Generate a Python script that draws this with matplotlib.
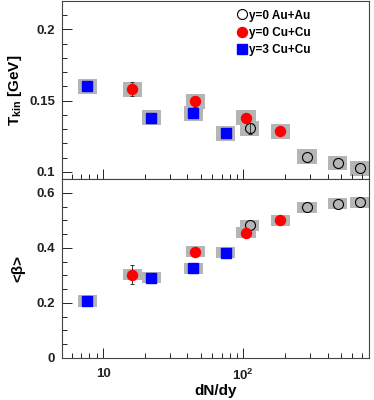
import matplotlib
matplotlib.use('Agg')
import matplotlib.pyplot as plt
from matplotlib.patches import Rectangle
from matplotlib.ticker import FixedLocator, FixedFormatter, MultipleLocator

plt.rcParams['font.family'] = ['Liberation Sans', 'DejaVu Sans']
plt.rcParams['font.weight'] = 'bold'
plt.rcParams['mathtext.fontset'] = 'custom'
plt.rcParams['mathtext.bf'] = 'Liberation Sans:bold'
plt.rcParams['mathtext.rm'] = 'Liberation Sans:bold'
plt.rcParams['mathtext.default'] = 'bf'

# y=0 Au+Au (open circles)
auau_x = [111, 285, 472, 678]
auau_T = [0.1305, 0.1107, 0.1063, 0.1026]
auau_T_err = [0.004, 0.0, 0.0, 0.0]
auau_b = [0.482, 0.548, 0.560, 0.565]
auau_b_err = [0.0, 0.0, 0.0, 0.0]

# y=0 Cu+Cu (red circles)
cu0_x = [16.1, 45.4, 104.5, 183]
cu0_T = [0.158, 0.1495, 0.138, 0.1286]
cu0_T_err = [0.005, 0.004, 0.0, 0.0]
cu0_b = [0.302, 0.386, 0.454, 0.500]
cu0_b_err = [0.035, 0.0, 0.0, 0.0]

# y=3 Cu+Cu (blue squares)
cu3_x = [7.7, 22, 44, 75]
cu3_T = [0.160, 0.138, 0.141, 0.127]
cu3_b = [0.207, 0.2915, 0.3266, 0.383]

sys_T = 0.0052
sys_b = 0.02
sys_fx = 1.17

fig = plt.figure(figsize=(3.74, 4.0), dpi=100)
ax1 = fig.add_axes([0.166, 0.5525, 0.821, 0.445])
ax2 = fig.add_axes([0.166, 0.105, 0.821, 0.4475])


def sys_boxes(ax, xs, ys, dy):
    for x, y in zip(xs, ys):
        ax.add_patch(Rectangle((x / sys_fx, y - dy), x * sys_fx - x / sys_fx, 2 * dy,
                               facecolor='#b5b5b5', edgecolor='none', zorder=1))


def stat_bars(ax, xs, ys, es):
    pts = [(x, y, e) for x, y, e in zip(xs, ys, es) if e > 0]
    if not pts:
        return
    ax.errorbar([p[0] for p in pts], [p[1] for p in pts], yerr=[p[2] for p in pts],
                fmt='none', ecolor='#333333', elinewidth=0.7, capsize=1.5,
                capthick=0.7, zorder=2)


for ax, au, cu0, cu3, au_e, cu0_e, dy in [
        (ax1, auau_T, cu0_T, cu3_T, auau_T_err, cu0_T_err, sys_T),
        (ax2, auau_b, cu0_b, cu3_b, auau_b_err, cu0_b_err, sys_b)]:
    sys_boxes(ax, auau_x, au, dy)
    sys_boxes(ax, cu0_x, cu0, dy)
    sys_boxes(ax, cu3_x, cu3, dy)
    stat_bars(ax, auau_x, au, au_e)
    stat_bars(ax, cu0_x, cu0, cu0_e)
    ax.plot(auau_x, au, 'o', mfc='none', mec='black', mew=0.8, ms=7.2, zorder=3,
            label='y=0 Au+Au')
    ax.plot(cu0_x, cu0, 'o', color='red', ms=7.2, zorder=3, label='y=0 Cu+Cu')
    ax.plot(cu3_x, cu3, 's', color='blue', ms=7, zorder=3, label='y=3 Cu+Cu')

    ax.set_xscale('log')
    ax.set_xlim(5.1, 790)
    ax.xaxis.set_major_locator(FixedLocator([10, 100]))
    ax.xaxis.set_minor_locator(FixedLocator([6, 7, 8, 9, 20, 30, 40, 50, 60, 70, 80, 90,
                                             200, 300, 400, 500, 600, 700]))
    ax.xaxis.set_minor_formatter(FixedFormatter([]))
    ax.tick_params(which='both', direction='in', top=False, right=False,
                   labelsize=9.5, width=0.7, colors='#222222', pad=5)
    ax.tick_params(which='major', length=7)
    ax.tick_params(which='minor', length=3.5)
    for s in ax.spines.values():
        s.set_linewidth(0.8)
        s.set_color('#444444')

ax1.set_ylim(0.095, 0.22)
ax1.yaxis.set_major_locator(FixedLocator([0.1, 0.15, 0.2]))
ax1.yaxis.set_major_formatter(FixedFormatter(['0.1', '0.15', '0.2']))
ax1.yaxis.set_minor_locator(MultipleLocator(0.01))
ax1.tick_params(axis='x', labelbottom=False)
ax1.set_ylabel(r'T$_{kin}$ [GeV]', fontsize=11, fontweight='bold', labelpad=4)

ax2.set_ylim(0, 0.65)
ax2.yaxis.set_major_locator(FixedLocator([0, 0.2, 0.4, 0.6]))
ax2.yaxis.set_major_formatter(FixedFormatter(['0', '0.2', '0.4', '0.6']))
ax2.yaxis.set_minor_locator(MultipleLocator(0.05))
ax2.xaxis.set_major_formatter(FixedFormatter(['10', r'10$^{2}$']))
ax2.tick_params(axis='x', pad=7)
ax2.set_ylabel('<β>', fontsize=11, fontweight='bold', labelpad=8)
ax2.set_xlabel('dN/dy', fontsize=11, fontweight='bold', labelpad=1)

ax1.legend(loc='upper left', bbox_to_anchor=(0.54, 1.005), frameon=False,
           fontsize=8.5, handlelength=0.8, handletextpad=0.2, labelspacing=0.45,
           borderpad=0.3)

fig.align_ylabels([ax1, ax2])
fig.savefig('out.png', dpi=100)
